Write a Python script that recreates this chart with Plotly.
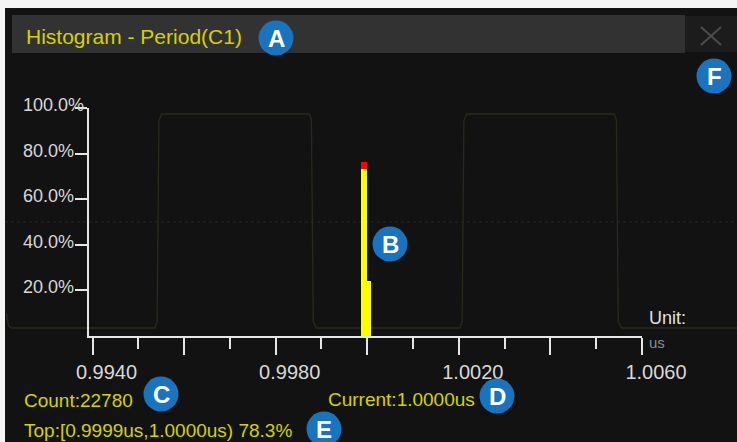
import plotly.graph_objects as go

W, H = 737, 442

# ---------------- data ----------------
title_text = "Histogram - Period(C1)"
x_major_vals = [0.9940, 0.9960, 0.9980, 1.0000, 1.0020, 1.0040, 1.0060]
x_major_text = ["0.9940", "", "0.9980", "", "1.0020", "", "1.0060"]
x_minor_vals = [0.9950, 0.9970, 0.9990, 1.0010, 1.0030, 1.0050]
y_tick_vals = [20, 40, 60, 80, 100]
y_tick_text = ["20.0%", "40.0%", "60.0%", "80.0%", "100.0%"]

bin_edges = [0.99986, 0.99999, 1.00008]      # us
bin_pct = [73.4, 24.0]                        # % (yellow part)
peak_cap = [3.0, 0.0]                         # red marker on top of the tallest bin

count_text = "Count:22780"
current_text = "Current:1.0000us"
top_text = "Top:[0.9999us,1.0000us) 78.3%"
unit_label = "Unit:"
unit_value = "us"

# background waveform (time in us, normalised level)
wave_t = [-0.497, -0.490, -0.480, -0.010, -0.003, 0.003, 0.012,
          0.497, 0.503, 0.509, 0.520, 0.990, 0.997, 1.003, 1.012,
          1.497, 1.503, 1.509, 1.520, 1.900]
wave_v = [0.07, 0.01, 0.0, 0.0, 0.03, 0.97, 1.0,
          1.0, 0.97, 0.03, 0.0, 0.0, 0.03, 0.97, 1.0,
          1.0, 0.97, 0.03, 0.0, 0.0]

callouts = ["A", "B", "C", "D", "E", "F"]

# ---------------- helpers ----------------
def px(x):
    return x / W

def py(y):
    return 1 - y / H

FONT = "Liberation Sans, Arial, sans-serif"
YEL = "#d2d200"

centers = [(bin_edges[i] + bin_edges[i + 1]) / 2 for i in range(len(bin_pct))]
widths = [bin_edges[i + 1] - bin_edges[i] for i in range(len(bin_pct))]

fig = go.Figure()

# waveform on a full-frame hidden axis pair (x / y), drawn first (underneath)
fig.add_trace(go.Scatter(x=wave_t, y=wave_v, mode="lines",
                         line=dict(color="#2a2a1b", width=1.3),
                         xaxis="x", yaxis="y", hoverinfo="skip", showlegend=False))

# histogram on x2 / y2 (drawn above the waveform)
fig.add_trace(go.Bar(x=centers, y=bin_pct, width=widths,
                     marker=dict(color="#ffff00", line=dict(width=0)),
                     xaxis="x2", yaxis="y2", showlegend=False, hoverinfo="skip"))
fig.add_trace(go.Bar(x=centers, y=peak_cap, width=widths,
                     marker=dict(color="#ff0000", line=dict(width=0)),
                     xaxis="x2", yaxis="y2", showlegend=False, hoverinfo="skip"))

# axis geometry (pixels)
x_left_px, x_right_px = 89, 642
tick0_px = 92.5
ppu = (x_right_px - tick0_px) / (x_major_vals[-1] - x_major_vals[0])
x_lo = x_major_vals[0] - (tick0_px - x_left_px) / ppu
y0_px, y100_px = 336, 108

# waveform frame mapping (period = 305 px, rising edge at 158 px)
t_per_px = 1 / 305.0
t_lo = (0 - 158) * t_per_px
t_hi = (W - 158) * t_per_px
v_lo = -(H - 328) / 214.0
v_hi = 1 + 114 / 214.0

axis_col = "#e6e6e6"
fig.update_layout(
    width=W, height=H, margin=dict(l=0, r=0, t=0, b=0, pad=0, autoexpand=False),
    paper_bgcolor="#121212", plot_bgcolor="rgba(0,0,0,0)",
    barmode="stack", bargap=0,
    font=dict(family=FONT),
    xaxis=dict(domain=[0, 1], range=[t_lo, t_hi], visible=False, fixedrange=True,
               automargin=False, anchor="y"),
    yaxis=dict(domain=[0, 1], range=[v_lo, v_hi], visible=False, fixedrange=True,
               automargin=False, anchor="x"),
    xaxis2=dict(domain=[px(x_left_px), px(x_right_px)], range=[x_lo, x_major_vals[-1]],
                anchor="y2", automargin=False,
                showgrid=False, zeroline=False, showline=True, linecolor=axis_col, linewidth=2,
                tickmode="array", tickvals=x_major_vals, ticktext=x_major_text,
                ticks="outside", ticklen=17, tickwidth=2, tickcolor=axis_col,
                minor=dict(tickvals=x_minor_vals, ticks="outside", ticklen=11,
                           tickwidth=2, tickcolor=axis_col),
                tickfont=dict(size=20, color="#d8d8d8", family=FONT),
                ticklabelshift=14, ticklabelstandoff=0, fixedrange=True),
    yaxis2=dict(domain=[py(y0_px), py(y100_px)], range=[0, 100],
                anchor="x2", automargin=False,
                showgrid=False, zeroline=False, showline=True, linecolor=axis_col, linewidth=2,
                tickmode="array", tickvals=y_tick_vals, showticklabels=False,
                ticks="outside", ticklen=12, tickwidth=2, tickcolor=axis_col, fixedrange=True),
)

shapes = []
# white frame strips
shapes.append(dict(type="rect", xref="paper", yref="paper", x0=0, x1=px(5), y0=0, y1=1,
                   fillcolor="#f4f4f4", line=dict(width=0), layer="above"))
shapes.append(dict(type="rect", xref="paper", yref="paper", x0=0, x1=1, y0=py(8), y1=1,
                   fillcolor="#f4f4f4", line=dict(width=0), layer="above"))
# title bar
shapes.append(dict(type="rect", xref="paper", yref="paper", x0=px(12), x1=px(685), y0=py(53), y1=py(15),
                   fillcolor="#323232", line=dict(width=0), layer="below"))
shapes.append(dict(type="rect", xref="paper", yref="paper", x0=px(685), x1=1, y0=py(52), y1=py(16),
                   fillcolor="#1c1c1c", line=dict(width=0), layer="below"))
# close cross
shapes.append(dict(type="line", xref="paper", yref="paper", x0=px(701), y0=py(27), x1=px(721), y1=py(45),
                   line=dict(color="#4c4c4c", width=2)))
shapes.append(dict(type="line", xref="paper", yref="paper", x0=px(701), y0=py(45), x1=px(721), y1=py(27),
                   line=dict(color="#4c4c4c", width=2)))
# dotted centre graticule line
shapes.append(dict(type="line", xref="paper", yref="paper", x0=px(5), y0=py(222), x1=1, y1=py(222),
                   line=dict(color="#262626", width=1, dash="dot"), layer="below"))

# callout circles
circle_pos = {"A": (276, 38), "B": (390, 244), "C": (161, 394),
              "D": (497, 396), "E": (324, 429), "F": (714, 76)}
r = 17.5
annotations = []
for k in callouts:
    cx, cy = circle_pos[k]
    shapes.append(dict(type="circle", xref="paper", yref="paper",
                       x0=px(cx - r), x1=px(cx + r), y0=py(cy + r), y1=py(cy - r),
                       fillcolor="#1a73bd", line=dict(width=0), layer="above"))
    annotations.append(dict(text="<b>%s</b>" % k, x=px(cx), y=py(cy + 0.5), xref="paper", yref="paper",
                            showarrow=False, xanchor="center", yanchor="middle",
                            font=dict(size=24, color="white", family=FONT)))

def txt(s, x, y, size, color, anchor="left"):
    annotations.append(dict(text=s, x=px(x), y=py(y), xref="paper", yref="paper",
                            showarrow=False, xanchor=anchor, yanchor="middle",
                            font=dict(size=size, color=color, family=FONT)))

txt(title_text, 24, 36, 21, YEL)
txt(count_text, 22, 400, 19, YEL)
txt(current_text, 326, 399, 19, YEL)
txt(top_text, 22, 430, 19, YEL)
txt(unit_label, 647, 318, 18, "#e0e0e0")
txt(unit_value, 647, 342, 15, "#8c8c8c")

for v, s in zip(y_tick_vals, y_tick_text):
    annotations.append(dict(text=s, x=px(21), y=v, xref="paper", yref="y2", yshift=3,
                            showarrow=False, xanchor="left", yanchor="middle",
                            font=dict(size=18, color="#d8d8d8", family=FONT)))

fig.update_layout(shapes=shapes, annotations=annotations)

fig.write_html("out.html", config={"displayModeBar": False},
               post_script="document.body.style.margin='0';")
